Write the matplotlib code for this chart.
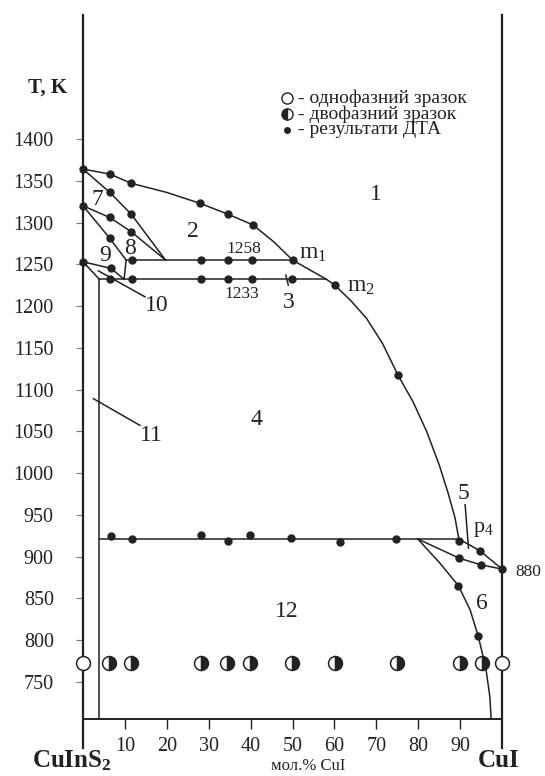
import matplotlib.pyplot as plt

plt.rcParams['font.family'] = 'Liberation Serif'
plt.rcParams['mathtext.fontset'] = 'custom'
plt.rcParams['mathtext.rm'] = 'Liberation Serif'
plt.rcParams['mathtext.it'] = 'Liberation Serif'
plt.rcParams['mathtext.bf'] = 'Liberation Serif:bold'

INK = '#222222'

# ---- ліквідус (мол.% CuI, T K) ----
liq_upper_x = [0, 6.4, 11.5, 20, 27.9, 34.6, 40.6, 45.5, 50]
liq_upper_t = [1364, 1358, 1347, 1336, 1323, 1310, 1297, 1277, 1255]
liq_lower_x = [50, 58.1, 60.1, 64, 67.7, 71.5, 75.2, 78.8, 82, 85, 87.2, 88.8, 89.7]
liq_lower_t = [1255, 1232, 1225, 1206, 1185, 1155, 1117, 1085, 1050, 1010, 975, 946, 921]

# ---- лінії в області CuInS2 ----
line_a_x = [0, 6.4, 11.5, 19.7]
line_a_t = [1364, 1336, 1310, 1255]
line_b_x = [0, 6.4, 11.5, 19.7]
line_b_t = [1320, 1306, 1289, 1255]
line_c_x = [0, 6.4, 10.3, 9.8]
line_c_t = [1320, 1281, 1255, 1232]
line_d_x = [0, 6.7, 9.8]
line_d_t = [1253, 1245, 1232]
line_e_x = [0, 3.9]
line_e_t = [1253, 1232]

# ---- ізотерми ----
iso_1258_x = [10.3, 50]
iso_1258_t = [1255, 1255]
iso_1233_x = [3.9, 58.1]
iso_1233_t = [1232, 1232]
iso_923_x = [3.9, 89.7]
iso_923_t = [921, 921]
ss_x = [3.9, 3.9]
ss_t = [1232, 706]

# ---- область CuI ----
right_up_x = [89.7, 94.7, 100]
right_up_t = [921, 907, 885]
right_lo_x = [79.9, 89.8, 95, 100]
right_lo_t = [921, 898, 890, 885]
solvus_x = [79.9, 85.2, 89.6, 92.4, 94.3, 96.1, 97.1, 97.4]
solvus_t = [921, 892, 865, 836, 805, 768, 732, 706]

# ---- результати ДТА ----
dta_x = [0, 6.4, 11.5, 27.9, 34.6, 40.6, 50, 60.1, 75.2,
         6.4, 11.5, 0, 6.4, 11.5, 6.4, 0, 6.7,
         11.6, 28.2, 34.6, 40.3,
         6.4, 11.6, 28.2, 34.6, 40.3, 49.8,
         6.7, 11.6, 28.2, 34.6, 39.9, 49.6, 61.3, 74.7, 89.7,
         94.7, 89.8, 95, 100, 89.6, 94.3]
dta_t = [1364, 1358, 1347, 1323, 1310, 1297, 1255, 1225, 1117,
         1336, 1310, 1320, 1306, 1289, 1281, 1253, 1245,
         1255, 1255, 1255, 1255,
         1232, 1232, 1232, 1232, 1232, 1232,
         925, 921, 926, 919, 926, 922, 917, 921, 919,
         907, 898, 890, 885, 865, 805]

# ---- зразки (відпал) ----
anneal_t = 773
single_x = [0, 100]
two_phase_x = [6.3, 11.4, 28.1, 34.3, 39.9, 49.8, 60.1, 74.9, 90, 95.2]

yticks = list(range(750, 1401, 50))
xticks = [10, 20, 30, 40, 50, 60, 70, 80, 90]

fig = plt.figure(figsize=(5.45, 7.76), dpi=100)
ax = fig.add_axes([83 / 545, 28 / 776, 419 / 545, 733 / 776])
ax.set_xlim(0, 100)
ax.set_ylim(670.7, 1548.5)

ax.spines['top'].set_visible(False)
for s in ['left', 'right']:
    ax.spines[s].set_linewidth(1.6)
    ax.spines[s].set_color(INK)
ax.spines['bottom'].set_position(('data', 706))
ax.spines['bottom'].set_linewidth(1.4)
ax.spines['bottom'].set_color(INK)

ax.set_yticks(yticks)
ax.set_yticklabels([str(v) for v in yticks])
ax.set_xticks(xticks)
ax.set_xticklabels([str(v) for v in xticks])
ax.tick_params(axis='y', direction='out', length=5, width=0.8, color='#777777',
               pad=16, labelsize=14.5, labelcolor=INK)
ax.tick_params(axis='x', direction='out', length=7, width=1.0, color=INK,
               pad=6, labelsize=14.5, labelcolor=INK)

lw = 1.1
for xs, ts in [(liq_upper_x, liq_upper_t), (liq_lower_x, liq_lower_t),
               (line_a_x, line_a_t), (line_b_x, line_b_t), (line_c_x, line_c_t),
               (line_d_x, line_d_t), (line_e_x, line_e_t),
               (iso_1258_x, iso_1258_t), (iso_1233_x, iso_1233_t),
               (iso_923_x, iso_923_t), (ss_x, ss_t),
               (right_up_x, right_up_t), (right_lo_x, right_lo_t),
               (solvus_x, solvus_t)]:
    ax.plot(xs, ts, color=INK, lw=lw, solid_joinstyle='round')

# ДТА точки
ax.plot(dta_x, dta_t, 'o', color=INK, ms=5, clip_on=False, zorder=5)

# зразки
ax.plot(single_x, [anneal_t] * len(single_x), 'o', ms=10, mfc='white',
        mec=INK, mew=1.1, clip_on=False, zorder=6)
ax.plot(two_phase_x, [anneal_t] * len(two_phase_x), 'o', ms=10,
        fillstyle='right', mfc=INK, mfcalt='white', mec=INK, mew=1.1,
        clip_on=False, zorder=6)

# виноски
ax.plot([48.4, 49.0], [1237, 1225], color=INK, lw=lw)
ax.plot([2.5, 13.6], [1089, 1057], color=INK, lw=lw)
ax.plot([3.7, 14.8], [1242, 1211], color=INK, lw=lw)
ax.plot([91.2, 92.0], [962, 910], color=INK, lw=lw)

# підписи областей
region_labels = [('1', 69.9, 1333), ('2', 26.3, 1289), ('3', 49.0, 1204),
                 ('4', 41.3, 1064), ('5', 90.8, 976), ('6', 95.1, 844),
                 ('7', 3.4, 1327), ('8', 11.2, 1269), ('9', 5.3, 1261),
                 ('10', 17.5, 1201), ('11', 16.4, 1045), ('12', 48.7, 834)]
for txt, x, t in region_labels:
    ax.text(x, t, txt, fontsize=17, color=INK, ha='center', va='center',
            clip_on=False)

ax.text(38.3, 1268, '1258', fontsize=12.5, color=INK, ha='center', va='center')
ax.text(37.8, 1214, '1233', fontsize=12.5, color=INK, ha='center', va='center')
ax.text(51.5, 1263, r'm$_1$', fontsize=17, color=INK, ha='left', va='center')
ax.text(63.0, 1223, r'm$_2$', fontsize=17, color=INK, ha='left', va='center')
ax.text(93.0, 932, r'p$_4$', fontsize=16, color=INK, ha='left', va='center')
ax.text(103.3, 882, '880', fontsize=12.5, color=INK, ha='left', va='center',
        clip_on=False)

# осі
ax.text(-8.5, 1462, 'T, K', fontsize=15, fontweight='bold', color=INK,
        ha='center', va='center', clip_on=False)
ax.text(-2.6, 648, r'$\mathbf{CuInS_2}$', fontsize=18, color=INK,
        ha='center', va='baseline', clip_on=False)
ax.text(99.3, 648, 'CuI', fontsize=18, fontweight='bold', color=INK,
        ha='center', va='baseline', clip_on=False)
ax.text(53.8, 644, 'мол.% CuI', fontsize=12, color=INK,
        ha='center', va='baseline', clip_on=False)

# легенда
leg_x = 48.7
leg_rows = [1449, 1430, 1411]
leg_texts = ['- однофазний зразок', '- двофазний зразок', '- результати ДТА']
ax.plot([leg_x], [leg_rows[0]], 'o', ms=8, mfc='white', mec=INK, mew=1.0)
ax.plot([leg_x], [leg_rows[1]], 'o', ms=8, fillstyle='left', mfc=INK,
        mfcalt='white', mec=INK, mew=1.0)
ax.plot([leg_x], [leg_rows[2]], 'o', ms=4, color=INK)
for t, txt in zip(leg_rows, leg_texts):
    ax.text(leg_x + 2.6, t, txt, fontsize=14, color=INK, ha='left',
            va='center')

fig.savefig('out.png', dpi=100)
